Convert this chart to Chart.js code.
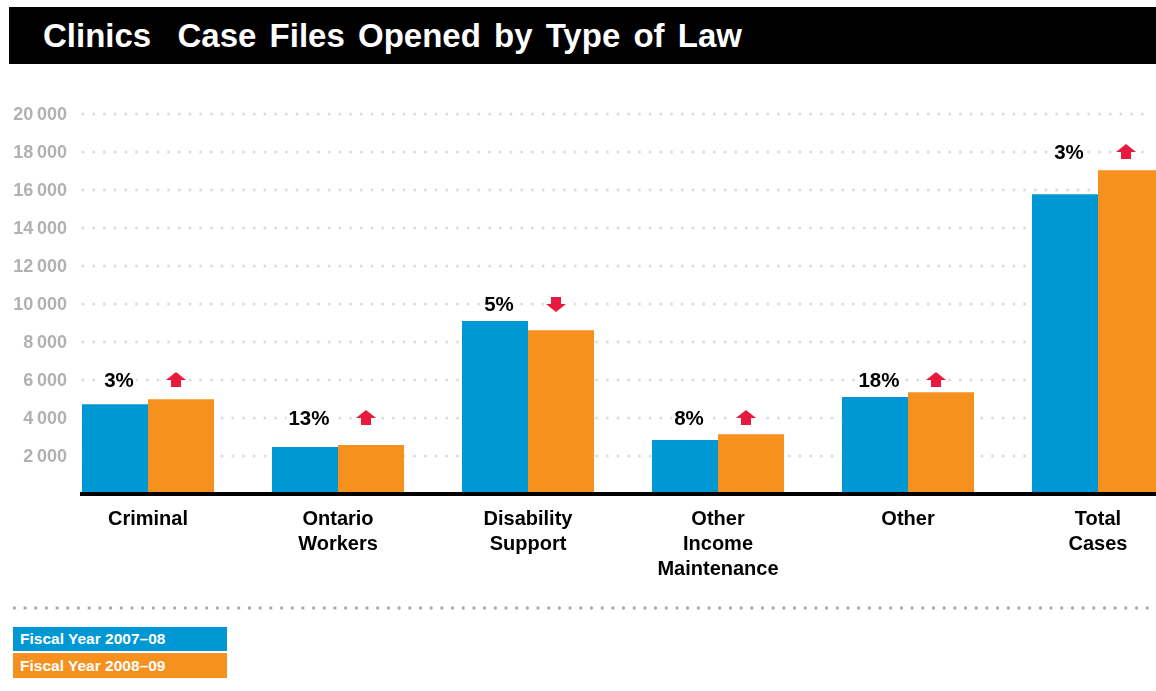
<!DOCTYPE html>
<html>
<head>
<meta charset="utf-8">
<script src="https://cdn.jsdelivr.net/npm/chart.js@4"></script>
<style>
  html, body { margin: 0; padding: 0; background: #fff; overflow: hidden; }
  body { width: 1156px; height: 691px; position: relative; font-family: "Liberation Sans", Arial, Helvetica, sans-serif; }
  #title {
    position: absolute; left: 9px; top: 7px; right: 0; height: 57px;
    background: #000; color: #fff; font-weight: bold; font-size: 33px;
    line-height: 57px; padding-left: 34px; white-space: pre; word-spacing: 4px;
  }
  #chartBox { position: absolute; left: 0; top: 70px; }
  #rule {
    position: absolute; left: 9px; top: 606px; width: 1150px; height: 4px;
    background: radial-gradient(circle, #a8a8a8 1.4px, transparent 1.9px) 0 0 / 10.7px 4px repeat-x;
  }
  .key {
    position: absolute; left: 13px; width: 207px; padding-left: 7px;
    color: #fff; font-weight: bold; font-size: 15.5px;
  }
</style>
</head>
<body>
<div id="title">Clinics  Case Files Opened by Type of Law</div>
<div id="chartBox"><canvas id="myChart" width="1200" height="540"></canvas></div>
<div id="rule"></div>
<div id="keys"></div>

<script>
const categories = [
  ["Criminal"],
  ["Ontario", "Workers"],
  ["Disability", "Support"],
  ["Other", "Income", "Maintenance"],
  ["Other"],
  ["Total", "Cases"],
];
const fy0708 = [4730, 2470, 9100, 2840, 5100, 15780];
const fy0809 = [4990, 2580, 8620, 3150, 5360, 17040];
const pctChange = [3, 13, -5, 8, 18, 3];
const seriesNames = ["Fiscal Year 2007\u201308", "Fiscal Year 2008\u201309"];
const seriesColors = ["#0097d5", "#f6901f"];
const yTicks = [2000, 4000, 6000, 8000, 10000, 12000, 14000, 16000, 18000, 20000];

const fontFamily = '"Liberation Sans", Arial, Helvetica, sans-serif';
Chart.defaults.font.family = fontFamily;

// 20000 -> "20 000" with a thin gap
function fmtTick(v) {
  const s = String(v);
  return s.length > 3 ? s.slice(0, -3) + "\u2009" + s.slice(-3) : s;
}

// dotted grid rows, value labels on the left, thick base line
const gridPlugin = {
  id: "dotGrid",
  beforeDatasetsDraw(chart) {
    const c = chart.ctx;
    const y = chart.scales.y;
    c.save();
    c.strokeStyle = "#dcdcdc";
    c.lineWidth = 3;
    c.lineCap = "round";
    c.setLineDash([0, 10.7]);
    yTicks.forEach(function (v) {
      const py = Math.round(y.getPixelForValue(v));
      c.beginPath();
      c.moveTo(83, py);
      c.lineTo(1152, py);
      c.stroke();
    });
    c.setLineDash([]);
    c.fillStyle = "#b1b1b1";
    c.font = "bold 18px " + fontFamily;
    c.textAlign = "right";
    c.textBaseline = "middle";
    yTicks.forEach(function (v) {
      c.fillText(fmtTick(v), 67, y.getPixelForValue(v) + 1);
    });
    c.restore();
  },
  afterDatasetsDraw(chart) {
    const c = chart.ctx;
    const py = chart.scales.y.getPixelForValue(0);
    c.save();
    c.fillStyle = "#000";
    c.fillRect(80, py - 2, chart.width - 80, 4);
    c.restore();
  },
};

// percentage labels and red arrows above each pair
const changePlugin = {
  id: "changeMarks",
  afterDatasetsDraw(chart) {
    const c = chart.ctx;
    const y = chart.scales.y;
    const m0 = chart.getDatasetMeta(0).data;
    const m1 = chart.getDatasetMeta(1).data;
    c.save();
    c.font = "bold 20.5px " + fontFamily;
    c.textAlign = "center";
    c.textBaseline = "middle";
    pctChange.forEach(function (p, i) {
      const top = Math.max(fy0708[i], fy0809[i]);
      const row = Math.ceil((top + 500) / 2000) * 2000;
      const py = Math.round(y.getPixelForValue(row));
      const txt = Math.abs(p) + "%";
      const lx = m0[i].x + 4;
      const w = c.measureText(txt).width;
      c.fillStyle = "#fff";
      c.fillRect(lx - w / 2 - 2, py - 9, w + 4, 18);
      c.fillStyle = "#000";
      c.fillText(txt, lx, py + 1);

      const ax = m1[i].x - 5;
      const dir = p >= 0 ? -1 : 1;
      c.fillStyle = "#fff";
      c.fillRect(ax - 12, py - 9, 24, 18);
      c.fillStyle = "#e8193f";
      c.beginPath();
      c.moveTo(ax - 10, py);
      c.lineTo(ax, py + dir * 8);
      c.lineTo(ax + 10, py);
      c.closePath();
      c.fill();
      c.fillRect(ax - 5, dir < 0 ? py - 0.5 : py - 7, 10, 7.5);
    });
    c.restore();
  },
};

const ctx = document.getElementById("myChart").getContext("2d");
const myChart = new Chart(ctx, {
  type: "bar",
  data: {
    labels: categories,
    datasets: [
      { label: seriesNames[0], data: fy0708, backgroundColor: seriesColors[0] },
      { label: seriesNames[1], data: fy0809, backgroundColor: seriesColors[1] },
    ],
  },
  options: {
    responsive: false,
    animation: false,
    categoryPercentage: 0.695,
    barPercentage: 1,
    layout: { padding: { left: 0, right: 7, top: 44, bottom: 0 } },
    plugins: { legend: { display: false }, tooltip: { enabled: false } },
    scales: {
      x: {
        grid: { display: false, drawTicks: false },
        border: { display: false },
        ticks: {
          color: "#000",
          font: { size: 20, weight: "bold", lineHeight: 1.25 },
          padding: 13,
          maxRotation: 0,
          autoSkip: false,
        },
        afterFit(scale) { scale.height = 116; },
      },
      y: {
        min: 0,
        max: 20000,
        grid: { display: false, drawTicks: false },
        border: { display: false },
        ticks: { display: false, stepSize: 2000 },
        afterFit(scale) { scale.width = 53; },
      },
    },
  },
  plugins: [gridPlugin, changePlugin],
});

// colour keys under the chart
const keys = document.getElementById("keys");
[[627, 24], [653, 25]].forEach(function (pos, i) {
  const d = document.createElement("div");
  d.className = "key";
  d.style.top = pos[0] + "px";
  d.style.height = pos[1] + "px";
  d.style.lineHeight = pos[1] + "px";
  d.style.background = seriesColors[i];
  d.textContent = seriesNames[i];
  keys.appendChild(d);
});
</script>
</body>
</html>
